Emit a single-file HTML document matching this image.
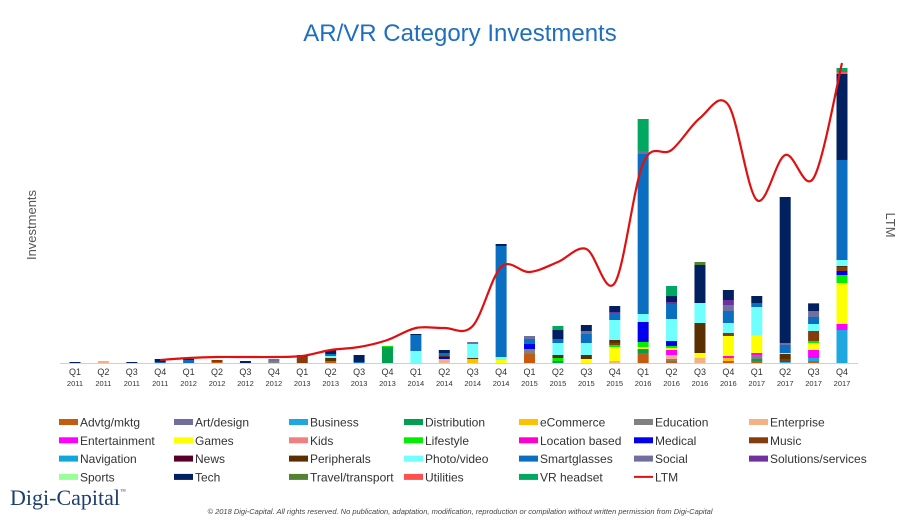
<!DOCTYPE html>
<html><head><meta charset="utf-8"><style>
body{margin:0;background:#fff;width:920px;height:520px;overflow:hidden;font-family:"Liberation Sans",sans-serif}
svg{display:block}
</style></head><body>
<svg id="c" width="920" height="520">
<text x="460" y="41" text-anchor="middle" font-size="24" fill="#1f6fc0">AR/VR Category Investments</text>
<text transform="translate(36,225) rotate(-90)" text-anchor="middle" font-size="13" fill="#555">Investments</text>
<text transform="translate(886,225) rotate(90)" text-anchor="middle" font-size="13" fill="#555">LTM</text>
<line x1="60" y1="363.5" x2="858" y2="363.5" stroke="#d0d0d0"/>
<g id="bars"></g><g id="xl"></g><g id="lg"></g>
<text x="10" y="505" font-family="Liberation Serif,serif" font-size="22" fill="#1d3f6e">Digi-Capital<tspan font-size="6" dy="-12">™</tspan></text>
<text x="460" y="514" text-anchor="middle" font-size="7.5" font-style="italic" fill="#444">© 2018 Digi-Capital. All rights reserved. No publication, adaptation, modification, reproduction or compilation without written permission from Digi-Capital</text>
</svg>
<script>
const categories=["Q1 2011","Q2 2011","Q3 2011","Q4 2011","Q1 2012","Q2 2012","Q3 2012","Q4 2012","Q1 2013","Q2 2013","Q3 2013","Q4 2013","Q1 2014","Q2 2014","Q3 2014","Q4 2014","Q1 2015","Q2 2015","Q3 2015","Q4 2015","Q1 2016","Q2 2016","Q3 2016","Q4 2016","Q1 2017","Q2 2017","Q3 2017","Q4 2017"];
const seriesNames=["Advtg/mktg","Art/design","Business","Distribution","eCommerce","Education","Enterprise","Entertainment","Games","Kids","Lifestyle","Location based","Medical","Music","Navigation","News","Peripherals","Photo/video","Smartglasses","Social","Solutions/services","Sports","Tech","Travel/transport","Utilities","VR headset"];
const seriesColors=["#c55a11","#6f6f9f","#1fa8e0","#00a050","#ffc000","#808080","#f4b183","#ff00ff","#ffff00","#f08080","#00ee00","#ff00cc","#0000ee","#843c0c","#10a8d8","#5a0028","#5a3000","#70ffff","#0a6fc0","#7070a0","#7030a0","#99ff99","#002060","#548235","#ff5050","#00a860"];
const advtg=[0,0,0,0,0,1,0,0,0,2,0,0,0,0,0,0,9,0,0,0,10,2,0,2,2,0,2,0];
const business=[0,0,0,0,0,0,0,0,0,0,0,0,0,0,0,0,0,0,0,0,0,0,0,0,0,1,3,33];
const distribution=[0,0,0,0,0,0,0,0,0,0,0,16,0,0,0,0,0,2,0,0,4,0,0,0,2,0,0,0];
const ecommerce=[0,0,0,0,0,0,0,0,0,0,0,0,0,0,4,0,0,0,0,0,0,0,0,3,0,0,0,0];
const education=[0,0,0,0,0,0,0,2,0,0,0,0,0,0,0,0,5,0,0,0,0,2,0,0,4,0,0,0];
const enterprise=[0,2,0,0,0,0,0,0,0,0,0,0,0,4,0,0,0,0,0,2,0,4,5,0,0,0,0,0];
const entertainment=[0,0,0,0,0,0,0,0,0,0,0,0,0,0,0,0,0,0,0,0,0,5,0,2,2,0,8,6];
const games=[0,0,0,0,0,0,0,0,0,0,0,0,0,0,0,3,0,0,4,14,2,2,5,20,18,0,7,41];
const lifestyle=[0,0,0,0,0,0,0,0,0,0,0,1,0,0,0,0,0,3,0,2,5,2,0,0,0,0,2,8];
const medical=[0,0,0,0,0,0,0,0,0,0,0,0,0,2,0,0,5,0,0,0,20,5,0,0,0,0,0,4];
const music=[0,0,0,0,0,2,0,0,6,0,0,0,0,0,0,0,0,0,0,2,0,0,0,3,0,3,10,4];
const peripherals=[0,0,0,0,0,0,0,0,2,3,0,0,0,1,1,0,0,3,4,3,0,0,30,0,0,5,0,1];
const photo=[0,0,0,0,0,0,0,0,0,2,0,0,12,0,14,3,0,12,12,20,8,22,20,10,28,1,7,6];
const smartglasses=[0,0,0,1,3,0,0,0,0,2,1,0,16,3,0,111,5,4,9,7,160,15,0,12,4,8,7,100];
const social=[0,0,0,0,0,0,0,2,0,0,0,0,0,0,2,0,3,0,3,0,3,0,0,6,0,2,6,0];
const solutions=[0,0,0,0,0,0,0,0,0,0,0,0,0,0,0,0,0,0,0,1,0,2,0,5,0,0,0,0];
const tech=[1,0,1,3,1,0,2,0,0,4,7,0,1,3,0,2,0,9,6,6,0,6,38,10,7,146,7,86];
const travel=[0,0,0,0,0,0,0,0,0,0,0,0,0,0,0,0,0,0,0,0,0,0,3,0,0,0,0,0];
const utilities=[0,0,0,0,0,0,0,0,0,0,0,0,0,0,0,0,0,0,0,0,0,0,0,0,0,0,0,2];
const vrheadset=[0,0,0,0,0,0,0,0,0,0,0,0,0,0,0,0,0,4,0,0,32,10,0,0,0,0,1,4];
const ltm=[null,null,null,3,5,6,6,6,7,13,16,23,35,35,37,96,91,101,114,80,200,213,245,258,163,208,185,300];
const zero=categories.map(()=>0);
const seriesData=[advtg,zero,business,distribution,ecommerce,education,enterprise,entertainment,games,zero,lifestyle,zero,medical,music,zero,zero,peripherals,photo,smartglasses,social,solutions,zero,tech,travel,utilities,vrheadset];
const NS="http://www.w3.org/2000/svg";
const x0=75,step=(842-75)/27,base=363,yMax=310;
function xs(i){return x0+i*step;}
function ys(v){return base-v*(base-53)/yMax;}
const bars=document.getElementById('bars');
categories.forEach((c,i)=>{
  let acc=0;
  seriesData.forEach((s,k)=>{
    const v=s[i]; if(!v) return;
    const r=document.createElementNS(NS,'rect');
    r.setAttribute('x',xs(i)-5.5);r.setAttribute('width',11);
    r.setAttribute('y',ys(acc+v));r.setAttribute('height',ys(acc)-ys(acc+v));
    r.setAttribute('fill',seriesColors[k]);
    
    
    bars.appendChild(r); acc+=v;
  });
  const [q,y]=c.split(' ');
  const xl=document.getElementById('xl');
  const t=document.createElementNS(NS,'text');
  t.setAttribute('x',xs(i));t.setAttribute('y',375);t.setAttribute('text-anchor','middle');
  t.setAttribute('font-size','9');t.setAttribute('fill','#333');
  t.innerHTML=q+'<tspan x="'+xs(i)+'" dy="11" font-size="7.5">'+y+'</tspan>';
  
  
  xl.appendChild(t);
});
// LTM smooth line
const pts=[];ltm.forEach((v,i)=>{if(v!=null)pts.push([xs(i),ys(v)]);});
let d='M'+pts[0][0]+','+pts[0][1];
for(let i=0;i<pts.length-1;i++){
  const p0=pts[i-1]||pts[i],p1=pts[i],p2=pts[i+1],p3=pts[i+2]||p2;
  const c1=[p1[0]+(p2[0]-p0[0])/6,p1[1]+(p2[1]-p0[1])/6],c2=[p2[0]-(p3[0]-p1[0])/6,p2[1]-(p3[1]-p1[1])/6];
  d+=' C'+c1+' '+c2+' '+p2;
}
const ln=document.createElementNS(NS,'path');
ln.setAttribute('d',d);ln.setAttribute('fill','none');ln.setAttribute('stroke','#e01010');ln.setAttribute('stroke-width','2.2');


document.getElementById('c').appendChild(ln);
// legend
const lg=document.getElementById('lg');
const names=seriesNames.concat(['LTM']);
names.forEach((n,k)=>{
  const col=k%7,row=Math.floor(k/7);
  const gx=59+col*115,gy=422+row*18.3;
  const g=document.createElementNS(NS,'g');
  
  
  if(n==='LTM'){
    g.innerHTML='<line x1="'+gx+'" x2="'+(gx+19)+'" y1="'+gy+'" y2="'+gy+'" stroke="#e01010" stroke-width="2"/>';
  } else {
    g.innerHTML='<rect x="'+gx+'" y="'+(gy-3)+'" width="19" height="6" fill="'+seriesColors[k]+'"/>';
  }
  g.innerHTML+='<text x="'+(gx+21)+'" y="'+(gy+4.5)+'" font-size="12" fill="#333">'+n+'</text>';
  lg.appendChild(g);
});
</script>
</body></html>
